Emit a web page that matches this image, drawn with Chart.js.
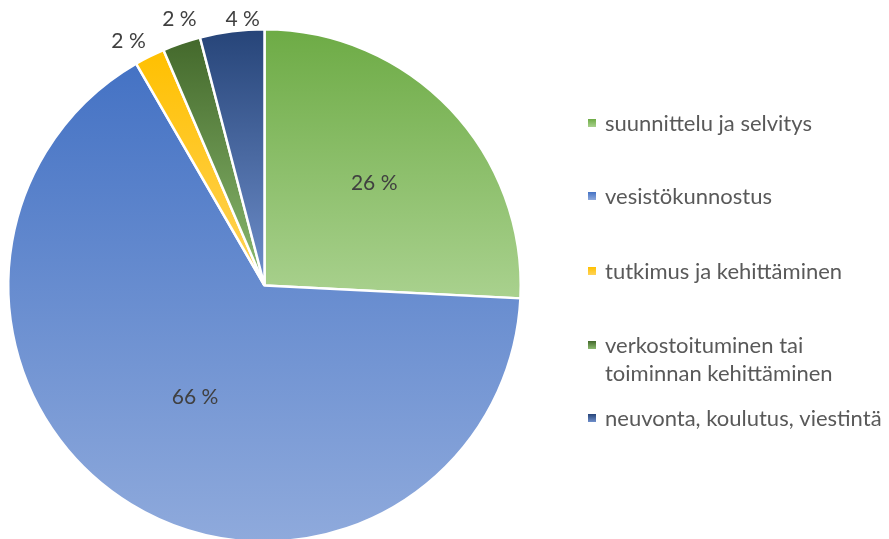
<!DOCTYPE html>
<html><head><meta charset="utf-8">
<script src="https://cdn.jsdelivr.net/npm/chart.js@4.4.0/dist/chart.umd.min.js"></script>
<style>
html,body{margin:0;padding:0;background:#fff;overflow:hidden;width:889px;height:539px}
#wrap{position:absolute;left:0;top:0;width:889px;height:560px}
</style>
</head><body>
<div id="wrap"><canvas id="c"></canvas></div>
<script>
const categories = ['suunnittelu ja selvitys', 'vesistökunnostus', 'tutkimus ja kehittäminen', 'verkostoituminen tai toiminnan kehittäminen', 'neuvonta, koulutus, viestintä'];
const shares = [25.8, 65.85, 1.9, 2.4, 4.05];
const legendLines = [['suunnittelu ja selvitys'], ['vesistökunnostus'], ['tutkimus ja kehittäminen'], ['verkostoituminen tai', 'toiminnan kehittäminen'], ['neuvonta, koulutus, viestintä']];

const topColors = ['#6DAB45', '#4472C4', '#FFC000', '#43682B', '#264478'];
const bottomColors = ['#A9D18E', '#8FAADC', '#FFD35A', '#8CBB70', '#6F8FCB'];

// label placement: fraction of radius along slice middle, plus small pixel nudge
const labelRadius = [0.58, 0.52, 1.07, 1.097, 1.043];
const labelNudge = [[2, 0], [0, -2], [-13, 1], [6, 0], [12, -1]];
const legendY = [123, 196, 271, 345, 418];
const FONT = 'Lato, "Open Sans", sans-serif';

const total = shares.reduce((a, b) => a + b, 0);

function sliceAngles(i) {
  let s = 0;
  for (let k = 0; k < i; k++) s += shares[k];
  const a0 = s / total * Math.PI * 2;
  const a1 = (s + shares[i]) / total * Math.PI * 2;
  return [a0, a1];
}

function sliceGradient(ctx, i, cx, cy, r) {
  const [a0, a1] = sliceAngles(i);
  const ys = [cy, cy - r * Math.cos(a0), cy - r * Math.cos(a1)];
  if (a0 <= 0 || a1 >= Math.PI * 2) ys.push(cy - r);
  if (a0 <= Math.PI && a1 >= Math.PI) ys.push(cy + r);
  const y0 = Math.min(...ys), y1 = Math.max(...ys);
  const g = ctx.createLinearGradient(0, y0, 0, y1);
  g.addColorStop(0, topColors[i]);
  g.addColorStop(1, bottomColors[i]);
  return g;
}

const labelPlugin = {
  id: 'labelPlugin',
  afterDatasetsDraw(chart) {
    const ctx = chart.ctx;
    const meta = chart.getDatasetMeta(0);
    ctx.save();
    ctx.font = '21px ' + FONT;
    ctx.fillStyle = '#404040';
    ctx.textAlign = 'center';
    ctx.textBaseline = 'middle';
    meta.data.forEach((arc, i) => {
      const { x, y, startAngle, endAngle, outerRadius } = arc.getProps(['x', 'y', 'startAngle', 'endAngle', 'outerRadius'], true);
      const mid = (startAngle + endAngle) / 2;
      const d = outerRadius * labelRadius[i];
      ctx.fillText(Math.round(shares[i] / total * 100) + ' %',
        x + Math.cos(mid) * d + labelNudge[i][0], y + Math.sin(mid) * d + labelNudge[i][1]);
    });
    // legend
    ctx.font = '22px ' + FONT;
    ctx.textAlign = 'left';
    categories.forEach((c, i) => {
      const y = legendY[i];
      const g = ctx.createLinearGradient(0, y - 4, 0, y + 4);
      g.addColorStop(0, topColors[i]);
      g.addColorStop(1, bottomColors[i]);
      ctx.fillStyle = g;
      ctx.fillRect(588, y - 4, 8, 8);
      ctx.fillStyle = '#595959';
      legendLines[i].forEach((ln, j) => ctx.fillText(ln, 605, y + 1 + j * 28));
    });
    ctx.restore();
  }
};

new Chart(document.getElementById('c'), {
  type: 'pie',
  data: {
    labels: categories,
    datasets: [{
      data: shares,
      backgroundColor: (context) => {
        const chart = context.chart;
        const ca = chart.chartArea;
        const i = context.dataIndex;
        if (!ca || i === undefined) return topColors[i || 0];
        const cx = (ca.left + ca.right) / 2, cy = (ca.top + ca.bottom) / 2;
        const r = Math.min(ca.right - ca.left, ca.bottom - ca.top) / 2;
        return sliceGradient(chart.ctx, i, cx, cy, r);
      },
      borderColor: '#ffffff',
      borderWidth: 2.5,
      hoverOffset: 0
    }]
  },
  options: {
    responsive: true,
    maintainAspectRatio: false,
    animation: false,
    layout: { padding: { left: 7, top: 28, right: 367, bottom: 17 } },
    plugins: { legend: { display: false }, tooltip: { enabled: false } }
  },
  plugins: [labelPlugin]
});
</script>
</body></html>
